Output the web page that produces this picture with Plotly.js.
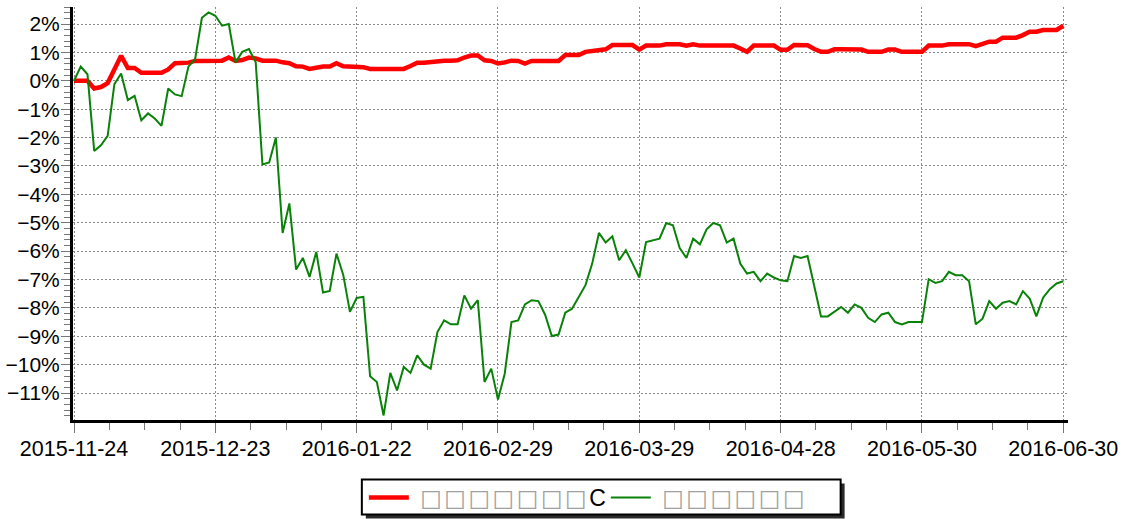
<!DOCTYPE html>
<html>
<head>
<meta charset="utf-8">
<script src="https://cdn.plot.ly/plotly-3.0.1.min.js"></script>
<style>html,body{margin:0;padding:0;background:#fff;}#chart{width:1128px;height:519px;}</style>
</head>
<body>
<div id="chart"></div>
<script>
// tick labels (one every 21 trading days)
const tickLabels = ["2015-11-24","2015-12-23","2016-01-22","2016-02-29","2016-03-29","2016-04-28","2016-05-30","2016-06-30"];
const ticksEvery = 21;

// red series (%)
const redSeries = [
  0, 0, 0, -0.27, -0.22, -0.08, 0.40, 0.88, 0.45, 0.45,
  0.28, 0.28, 0.28, 0.28, 0.40, 0.62, 0.63, 0.64, 0.70, 0.70,
  0.70, 0.71, 0.71, 0.82, 0.70, 0.73, 0.82, 0.79, 0.71, 0.71,
  0.71, 0.65, 0.62, 0.51, 0.50, 0.42, 0.48, 0.50, 0.50, 0.62,
  0.51, 0.50, 0.50, 0.48, 0.42, 0.42, 0.42, 0.42, 0.42, 0.42,
  0.52, 0.64, 0.64, 0.67, 0.71, 0.71, 0.71, 0.72, 0.82, 0.89,
  0.89, 0.72, 0.70, 0.61, 0.65, 0.71, 0.70, 0.61, 0.70, 0.70,
  0.70, 0.70, 0.70, 0.91, 0.91, 0.91, 1.02, 1.05, 1.11, 1.11,
  1.26, 1.26, 1.26, 1.26, 1.10, 1.24, 1.24, 1.24, 1.29, 1.29,
  1.29, 1.24, 1.29, 1.24, 1.24, 1.24, 1.24, 1.24, 1.24, 1.14,
  1.02, 1.24, 1.24, 1.24, 1.24, 1.09, 1.09, 1.26, 1.26, 1.25,
  1.12, 1.02, 1.02, 1.11, 1.11, 1.11, 1.11, 1.10, 1.02, 1.02,
  1.02, 1.10, 1.10, 1.02, 1.02, 1.02, 1.02, 1.24, 1.24, 1.24,
  1.29, 1.29, 1.29, 1.29, 1.22, 1.29, 1.38, 1.38, 1.52, 1.52,
  1.52, 1.61, 1.73, 1.73, 1.79, 1.79, 1.79, 1.94
];

// green series (%)
const greenSeries = [
  0, 0.50, 0.23, -2.47, -2.27, -1.94, -0.12, 0.26, -0.68, -0.53,
  -1.39, -1.15, -1.33, -1.59, -0.27, -0.48, -0.54, 0.50, 0.77, 2.22,
  2.41, 2.29, 1.94, 2.00, 0.65, 1.02, 1.12, 0.65, -2.95, -2.88,
  -2.00, -5.36, -4.32, -6.65, -6.24, -6.91, -6.03, -7.46, -7.40, -6.09,
  -6.83, -8.14, -7.65, -7.61, -10.41, -10.61, -11.79, -10.29, -10.91, -10.08,
  -10.29, -9.67, -10.00, -10.14, -8.85, -8.44, -8.58, -8.58, -7.56, -8.03,
  -7.73, -10.61, -10.14, -11.23, -10.32, -8.50, -8.44, -7.88, -7.73, -7.76,
  -8.24, -8.99, -8.94, -8.17, -8.03, -7.61, -7.20, -6.44, -5.36, -5.70,
  -5.48, -6.32, -5.97, -6.44, -6.93, -5.68, -5.62, -5.56, -5.01, -5.09,
  -5.89, -6.24, -5.56, -5.76, -5.23, -5.01, -5.09, -5.70, -5.56, -6.44,
  -6.79, -6.73, -7.06, -6.79, -6.93, -7.03, -7.06, -6.17, -6.24, -6.17,
  -7.24, -8.30, -8.30, -8.12, -7.97, -8.17, -7.88, -8.00, -8.35, -8.50,
  -8.23, -8.17, -8.50, -8.58, -8.50, -8.50, -8.50, -6.99, -7.12, -7.06,
  -6.73, -6.85, -6.85, -7.06, -8.58, -8.38, -7.76, -8.03, -7.82, -7.76,
  -7.88, -7.41, -7.67, -8.30, -7.64, -7.34, -7.14, -7.06
];

// legend names (rendered as missing-glyph boxes in the original)
const BOX = "font-family:'DejaVu Sans';color:#a0a0a0;letter-spacing:2.4px";
const redName = ' <span style="' + BOX + '">□□□□□□□</span>C';
const greenName = ' <span style="' + BOX + '">□□□□□□</span>';

const xIdx = redSeries.map((_, i) => i);
const tickVals = tickLabels.map((_, k) => k * ticksEvery);
const minorVals = [];
for (let v = 0; v <= (tickLabels.length - 1) * ticksEvery + 0.01; v += ticksEvery / 4) minorVals.push(v);

const FONT = 'Liberation Sans, Arial, sans-serif';

const traces = [
  {x: xIdx, y: redSeries, type: 'scatter', mode: 'lines', name: redName,
   line: {color: '#ff0000', width: 4.5}},
  {x: xIdx, y: greenSeries, type: 'scatter', mode: 'lines', name: greenName,
   line: {color: '#0a820a', width: 2}}
];

const layout = {
  width: 1128, height: 519,
  margin: {l: 73, r: 59.5, t: 7, b: 99.4, autoexpand: false},
  paper_bgcolor: '#ffffff', plot_bgcolor: '#ffffff',
  showlegend: true,
  font: {family: FONT, color: '#000'},
  xaxis: {
    range: [-0.15, 147.7],
    tickmode: 'array', tickvals: tickVals, ticktext: tickLabels,
    ticks: 'outside', ticklen: 10, tickwidth: 1, tickcolor: '#777',
    tickfont: {family: FONT, size: 21.5, color: '#000'},
    ticklabelstandoff: -3,
    showline: true, linecolor: '#000', linewidth: 3,
    showgrid: true, gridcolor: '#8a8a8a', gridwidth: 1, griddash: '2px,2px',
    zeroline: false,
    minor: {tickmode: 'array', tickvals: minorVals, ticks: 'outside', ticklen: 7, tickcolor: '#777', showgrid: false}
  },
  yaxis: {
    range: [-11.95, 2.6],
    tickmode: 'linear', tick0: 0, dtick: 1, ticksuffix: '%',
    ticks: 'outside', ticklen: 9, tickwidth: 1, tickcolor: '#777',
    tickfont: {family: FONT, size: 21, color: '#000'},
    ticklabelstandoff: -3,
    showline: true, linecolor: '#000', linewidth: 3,
    showgrid: true, gridcolor: '#8a8a8a', gridwidth: 1, griddash: '2px,2px',
    zeroline: false,
    minor: {dtick: 0.2, ticks: 'outside', ticklen: 6, tickcolor: '#777', showgrid: false}
  },
  legend: {
    orientation: 'h', x: 0.2923, xanchor: 'left', y: -0.1876, yanchor: 'middle',
    bgcolor: 'rgba(0,0,0,0)', borderwidth: 0,
    font: {family: FONT, size: 23, color: '#000'},
    itemwidth: 40, entrywidth: 187, entrywidthmode: 'pixels', tracegroupgap: 0
  },
  shapes: [
    // legend drop shadow and frame
    {type: 'rect', xref: 'paper', yref: 'paper', x0: 0.2943, x1: 0.7755, y0: -0.2385, y1: -0.1537,
     fillcolor: '#2a2a2a', line: {width: 0}, layer: 'below'},
    {type: 'rect', xref: 'paper', yref: 'paper', x0: 0.2903, x1: 0.7715, y0: -0.2288, y1: -0.1440,
     fillcolor: '#ffffff', line: {color: '#000', width: 2}, layer: 'below'}
  ]
};

Plotly.newPlot('chart', traces, layout, {displayModeBar: false, staticPlot: true});
</script>
</body>
</html>
